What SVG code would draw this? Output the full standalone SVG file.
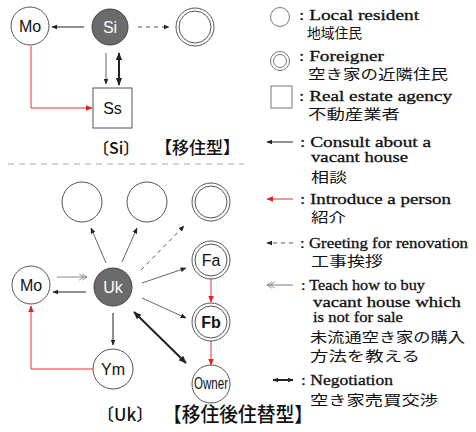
<svg xmlns="http://www.w3.org/2000/svg" width="476" height="432" viewBox="0 0 476 432">
<defs>
<style>
.nd{fill:#fff;stroke:#555;stroke-width:1}
.dk{fill:#6b6b6b;stroke:#444;stroke-width:1}
.lb{font-family:"Liberation Sans",Arial,sans-serif;font-size:16px;fill:#111;text-anchor:middle}
.lw{fill:#fff}
.ln{stroke:#666;stroke-width:1;fill:none}
.bk{stroke:#222;stroke-width:1;fill:none}
.rd{stroke:#e83030;stroke-width:1;fill:none}
.ng{stroke:#222;stroke-width:2;fill:none}
.ds{stroke:#555;stroke-width:1;fill:none;stroke-dasharray:4 4}
.tt{font-family:"Noto Sans CJK JP","Liberation Sans",sans-serif;fill:#111;font-weight:500}
.le{font-family:"Liberation Serif","Times New Roman",serif;font-size:15px;fill:#111;stroke:#111;stroke-width:0.3}
.lj{font-family:"Noto Sans CJK JP",sans-serif;font-size:13.5px;fill:#111}
</style>
<marker id="ab" viewBox="0 0 10 10" refX="9" refY="5" markerWidth="6" markerHeight="6" orient="auto-start-reverse" markerUnits="userSpaceOnUse"><path d="M0 1 L10 5 L0 9 Z" fill="#222"/></marker>
<marker id="an" viewBox="0 0 10 10" refX="9" refY="5" markerWidth="8" markerHeight="8" orient="auto-start-reverse" markerUnits="userSpaceOnUse"><path d="M0 1 L10 5 L0 9 Z" fill="#222"/></marker>
<marker id="ar" viewBox="0 0 10 10" refX="9" refY="5" markerWidth="7" markerHeight="7" orient="auto" markerUnits="userSpaceOnUse"><path d="M0 1 L10 5 L0 9 Z" fill="#e82020"/></marker>
<marker id="at" viewBox="0 0 14 10" refX="13" refY="5" markerWidth="11" markerHeight="8" orient="auto" markerUnits="userSpaceOnUse"><path d="M3 1 L9 5 L3 9 M7 1 L13 5 L7 9" fill="none" stroke="#777" stroke-width="1"/></marker>
</defs>

<g id="connectors">
<line class="bk" x1="84" y1="27" x2="52" y2="27" marker-end="url(#ab)"/>
<line class="ds" x1="138" y1="27" x2="169" y2="27" marker-end="url(#ab)"/>
<line class="ln" x1="106" y1="53" x2="106" y2="84" marker-end="url(#ab)"/>
<line class="ng" x1="119" y1="53" x2="119" y2="85" marker-start="url(#an)" marker-end="url(#an)"/>
<path class="rd" d="M31 46 V108 H92" marker-end="url(#ar)"/>
<line class="ln" x1="106" y1="263" x2="91" y2="228" marker-end="url(#ab)"/>
<line class="ln" x1="122" y1="262" x2="137" y2="228" marker-end="url(#ab)"/>
<line class="ds" x1="141" y1="270" x2="184" y2="226" marker-end="url(#ab)"/>
<line class="ln" x1="142" y1="283" x2="186" y2="268" marker-end="url(#ab)"/>
<line class="ln" x1="142" y1="298" x2="186" y2="318" marker-end="url(#ab)"/>
<line class="ng" x1="134" y1="312" x2="186" y2="363" marker-start="url(#an)" marker-end="url(#an)"/>
<line class="bk" x1="113" y1="313" x2="113" y2="345" marker-end="url(#ab)"/>
<line stroke="#888" stroke-width="1" x1="57" y1="277" x2="87" y2="277" marker-end="url(#at)"/>
<line class="bk" x1="86" y1="292" x2="53" y2="292" marker-end="url(#ab)"/>
<path class="rd" d="M93 369 H31 V306" marker-end="url(#ar)"/>
<line class="rd" x1="211" y1="279" x2="211" y2="302" marker-end="url(#ar)"/>
<line class="rd" x1="211" y1="341" x2="211" y2="365" marker-end="url(#ar)"/>
</g>

<g id="node-mo-top"><circle class="nd" cx="30" cy="26" r="19"/><text class="lb" x="30" y="32">Mo</text></g>
<g id="node-si"><circle class="dk" cx="110" cy="27" r="18"/><text class="lb lw" x="110" y="33" font-size="17">Si</text></g>
<g id="node-foreigner-top"><circle class="nd" cx="195" cy="27" r="19"/><circle class="nd" cx="195" cy="27" r="16"/></g>
<g id="node-ss"><rect class="nd" x="93" y="88" width="39" height="40"/><text class="lb" x="112.5" y="114">Ss</text></g>
<g id="title-si"><text class="tt" x="93" y="154" font-size="16">〔Si〕</text><text class="tt" x="155" y="154" font-size="17" textLength="85" lengthAdjust="spacingAndGlyphs">【移住型】</text></g>

<line x1="8" y1="164" x2="244" y2="164" stroke="#aaa" stroke-width="1.2" stroke-dasharray="6 5"/>

<g id="node-res1"><circle class="nd" cx="82" cy="202" r="20"/></g>
<g id="node-res2"><circle class="nd" cx="147" cy="202" r="20"/></g>
<g id="node-for1"><circle class="nd" cx="211" cy="202" r="19"/><circle class="nd" cx="211" cy="202" r="16"/></g>
<g id="node-fa"><circle class="nd" cx="211" cy="260" r="19"/><circle class="nd" cx="211" cy="260" r="16"/><text class="lb" x="211" y="266">Fa</text></g>
<g id="node-fb"><circle class="nd" cx="211" cy="322" r="19"/><circle class="nd" cx="211" cy="322" r="16"/><text class="lb" x="211" y="328" font-weight="bold">Fb</text></g>
<g id="node-owner"><circle class="nd" cx="211" cy="384" r="19"/><text class="lb" x="211" y="389" font-size="13" textLength="34" lengthAdjust="spacingAndGlyphs">Owner</text></g>
<g id="node-mo"><circle class="nd" cx="31" cy="285" r="19"/><text class="lb" x="31" y="291">Mo</text></g>
<g id="node-uk"><circle class="dk" cx="113" cy="287" r="19"/><text class="lb lw" x="113" y="293" font-size="17">Uk</text></g>
<g id="node-ym"><circle class="nd" cx="113" cy="369" r="20"/><text class="lb" x="113" y="375">Ym</text></g>
<g id="title-uk"><text class="tt" x="97" y="421" font-size="17">〔Uk〕</text><text class="tt" x="163" y="422" font-size="20" textLength="150" lengthAdjust="spacingAndGlyphs">【移住後住替型】</text></g>

<g id="legend">
<circle cx="280" cy="17" r="9.5" fill="#fff" stroke="#777"/>
<text class="le" x="299" y="20" textLength="120" lengthAdjust="spacingAndGlyphs">: Local resident</text>
<text class="lj" x="307" y="38" textLength="55" lengthAdjust="spacingAndGlyphs">地域住民</text>

<circle cx="280" cy="61" r="9.5" fill="#fff" stroke="#777"/><circle cx="280" cy="61" r="6.5" fill="#fff" stroke="#777"/>
<text class="le" x="299" y="61" textLength="85" lengthAdjust="spacingAndGlyphs">: Foreigner</text>
<text class="lj" x="308" y="79" textLength="140" lengthAdjust="spacingAndGlyphs">空き家の近隣住民</text>

<rect x="271" y="86" width="21" height="22" fill="#fff" stroke="#777"/>
<text class="le" x="299" y="101" textLength="153" lengthAdjust="spacingAndGlyphs">: Real estate agency</text>
<text class="lj" x="308" y="119" textLength="92" lengthAdjust="spacingAndGlyphs">不動産業者</text>

<line class="bk" x1="293" y1="142" x2="267" y2="142" marker-end="url(#ab)"/>
<text class="le" x="300" y="147" textLength="131" lengthAdjust="spacingAndGlyphs">: Consult about a</text>
<text class="le" x="311" y="162" textLength="97" lengthAdjust="spacingAndGlyphs">vacant house</text>
<text class="lj" x="311" y="182" textLength="36" lengthAdjust="spacingAndGlyphs">相談</text>

<line class="rd" x1="293" y1="199" x2="267" y2="199" marker-end="url(#ar)"/>
<text class="le" x="300" y="204" textLength="151" lengthAdjust="spacingAndGlyphs">: Introduce a person</text>
<text class="lj" x="311" y="222" textLength="35" lengthAdjust="spacingAndGlyphs">紹介</text>

<line class="ds" x1="293" y1="243" x2="267" y2="243" marker-end="url(#ab)"/>
<text class="le" x="300" y="248" textLength="168" lengthAdjust="spacingAndGlyphs">: Greeting for renovation</text>
<text class="lj" x="311" y="266" textLength="72" lengthAdjust="spacingAndGlyphs">工事挨拶</text>

<line stroke="#777" stroke-width="1" x1="293" y1="285" x2="267" y2="285" marker-end="url(#at)"/>
<text class="le" x="301" y="290" textLength="124" lengthAdjust="spacingAndGlyphs">: Teach how to buy</text>
<text class="le" x="313" y="307" textLength="148" lengthAdjust="spacingAndGlyphs">vacant house which</text>
<text class="le" x="313" y="322" textLength="90" lengthAdjust="spacingAndGlyphs">is not for sale</text>
<text class="lj" x="310" y="342" font-size="13" textLength="155" lengthAdjust="spacingAndGlyphs">未流通空き家の購入</text>
<text class="lj" x="310" y="361" font-size="13" textLength="110" lengthAdjust="spacingAndGlyphs">方法を教える</text>

<line class="ng" x1="273" y1="380" x2="293" y2="380" stroke-width="1.5" marker-start="url(#ab)" marker-end="url(#ab)"/>
<text class="le" x="301" y="385" textLength="92" lengthAdjust="spacingAndGlyphs">: Negotiation</text>
<text class="lj" x="310" y="405" textLength="128" lengthAdjust="spacingAndGlyphs">空き家売買交渉</text>
</g>
</svg>
